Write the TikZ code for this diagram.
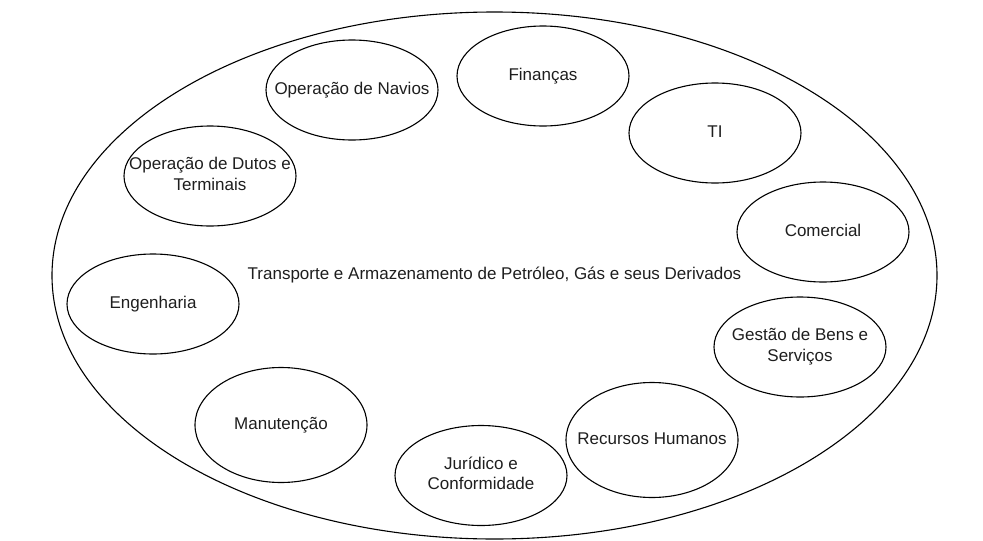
\documentclass[tikz,border=0pt]{standalone}
\usepackage{fontspec}
\setmainfont{Liberation Sans}
\usetikzlibrary{shapes.geometric}
\definecolor{txt}{RGB}{30,30,30}
\newcommand{\lbl}[1]{\makebox[0pt]{\begin{tabular}{@{}c@{}}#1\end{tabular}}}
\tikzset{
  unit/.style={ellipse, draw=black, line width=1.1pt, inner sep=0pt,
    minimum width=172pt, minimum height=100pt, text=txt,
    font=\fontsize{17}{20.5}\selectfont},
  tallunit/.style={unit, minimum height=115pt},
  whole/.style={ellipse, draw=black, line width=1.1pt, inner sep=0pt,
    minimum width=885pt, minimum height=527pt, text=txt,
    font=\fontsize{17}{20.5}\selectfont}
}
\begin{document}
\begin{tikzpicture}[x=1pt,y=-1pt]
\useasboundingbox (0,0) rectangle (983,541);
\node[whole] (outer) at (494.5,275.5) {\raisebox{1.5pt}{Transporte e Armazenamento de Petróleo, Gás e seus Derivados}};
\node[unit] (navios) at (352,90) {\lbl{Operação de Navios}};
\node[unit] (financas) at (543,76) {\lbl{Finanças}};
\node[unit] (ti) at (715,133) {\lbl{TI}};
\node[unit] (comercial) at (823,232) {\lbl{Comercial}};
\node[unit] (gestao) at (800,347) {\lbl{Gestão de Bens e\\Serviços}};
\node[tallunit] (rh) at (652,440) {\lbl{Recursos Humanos}};
\node[unit] (juridico) at (481,475.5) {\lbl{Jurídico e\\Conformidade}};
\node[tallunit] (manut) at (281,425) {\lbl{Manutenção}};
\node[unit] (eng) at (153,304) {\lbl{Engenharia}};
\node[unit] (dutos) at (210,176) {\lbl{Operação de Dutos e\\Terminais}};
\end{tikzpicture}
\end{document}
